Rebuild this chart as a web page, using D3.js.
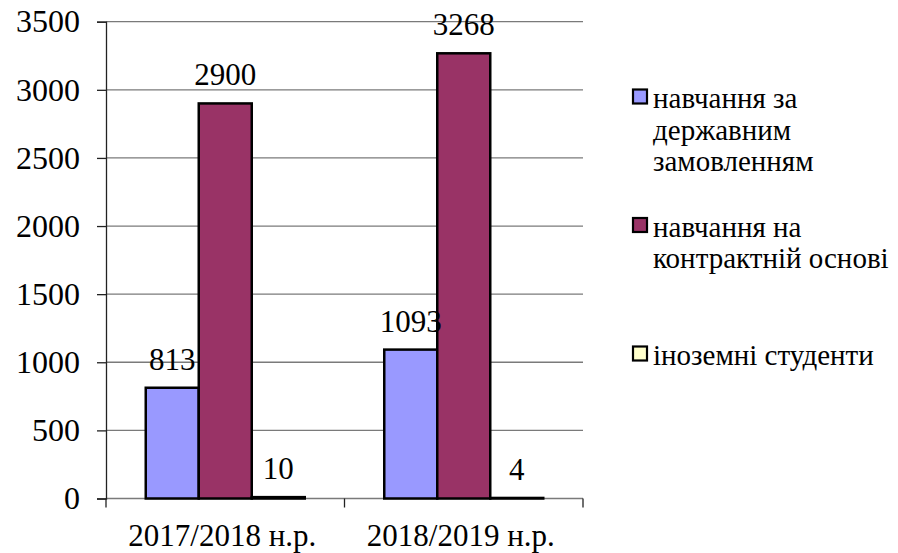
<!DOCTYPE html>
<html>
<head>
<meta charset="utf-8">
<script src="https://cdn.jsdelivr.net/npm/d3@7"></script>
<style>
  body { margin: 0; background: #fff; }
</style>
</head>
<body>
<div id="container"></div>
<script>
/* DATA */
const years = ["2017/2018 н.р.", "2018/2019 н.р."];
const seriesNames = [
  "навчання за державним замовленням",
  "навчання на контрактній основі",
  "іноземні студенти"
];
const stateFunded = [813, 1093];
const contract = [2900, 3268];
const foreign = [10, 4];
const yTicks = [0, 500, 1000, 1500, 2000, 2500, 3000, 3500];
const colors = ["#9999ff", "#993366", "#ffffcc"];

/* CONSTANTS */
const width = 898, height = 553;
const plot = {left: 106, right: 583, top: 21.7, bottom: 498.5};
const serif = "'Liberation Serif', 'Times New Roman', serif";

const svg = d3.select("#container").append("svg")
  .attr("width", width)
  .attr("height", height);

const seriesValues = [stateFunded, contract, foreign];
const data = [];
years.forEach((y, i) => {
  seriesNames.forEach((s, j) => data.push({year: y, series: s, value: seriesValues[j][i], idx: j}));
});

/* SCALES */
const xScale = d3.scaleBand().domain(years).range([plot.left, plot.right]);
const xInner = d3.scaleBand().domain(seriesNames)
  .range([0, xScale.bandwidth()])
  .paddingInner(0).paddingOuter(0.75);
const yScale = d3.scaleLinear().domain([0, 3500]).range([plot.bottom, plot.top]);

// gridlines
svg.append("g").selectAll("line")
  .data(yTicks)
  .join("line")
  .attr("x1", plot.left).attr("x2", plot.right)
  .attr("y1", d => yScale(d)).attr("y2", d => yScale(d))
  .attr("stroke", "#7a7a7a").attr("stroke-width", 1.3);

// y axis
const yAxis = d3.axisLeft(yScale).tickValues(yTicks).tickFormat(d3.format("d"))
  .tickSize(9).tickPadding(17);
const gy = svg.append("g")
  .attr("transform", `translate(${plot.left},0)`)
  .call(yAxis);
gy.select(".domain").attr("stroke", "#222").attr("stroke-width", 1.3);
gy.selectAll(".tick line").attr("stroke", "#222").attr("stroke-width", 1.3);
gy.selectAll("text")
  .style("font-family", serif)
  .style("font-size", "32px")
  .attr("fill", "#000");

// x axis ticks at category boundaries
const bounds = [plot.left, ...years.map(y => xScale(y) + xScale.bandwidth())];
svg.append("g").selectAll("line")
  .data(bounds)
  .join("line")
  .attr("x1", d => d).attr("x2", d => d)
  .attr("y1", plot.bottom).attr("y2", plot.bottom + 9)
  .attr("stroke", "#222").attr("stroke-width", 1.3);

svg.append("g").selectAll("text")
  .data(years)
  .join("text")
  .attr("x", d => xScale(d) + xScale.bandwidth() / 2 - 3)
  .attr("y", 546)
  .attr("text-anchor", "middle")
  .style("font-family", serif)
  .style("font-size", "31px")
  .text(d => d);

// bars
svg.append("g").selectAll("rect")
  .data(data)
  .join("rect")
  .attr("x", d => xScale(d.year) + xInner(d.series))
  .attr("y", d => yScale(d.value))
  .attr("width", xInner.bandwidth())
  .attr("height", d => yScale(0) - yScale(d.value))
  .attr("fill", d => colors[d.idx])
  .attr("stroke", "#000")
  .attr("stroke-width", 2.5);

// value labels
svg.append("g").selectAll("text")
  .data(data)
  .join("text")
  .attr("x", d => xScale(d.year) + xInner(d.series) + xInner.bandwidth() / 2)
  .attr("y", d => yScale(d.value) - 18)
  .attr("text-anchor", "middle")
  .style("font-family", serif)
  .style("font-size", "31px")
  .text(d => d.value);

/* LEGEND */
const legendY = d3.scalePoint().domain(seriesNames).range([129.5, 355]);
const lineH = 31.5;
const legend = svg.append("g");

seriesNames.forEach((name, j) => {
  const g = legend.append("g");
  const t = g.append("text").attr("x", 653)
    .style("font-family", serif)
    .style("font-size", "29px");
  // wrap words
  const words = name.split(" ");
  let lines = [], cur = [];
  words.forEach(w => {
    const test = cur.concat(w).join(" ");
    t.text(test);
    if (t.node().getComputedTextLength() > 242 && cur.length) {
      lines.push(cur.join(" "));
      cur = [w];
    } else cur.push(w);
  });
  lines.push(cur.join(" "));
  t.text(null);
  const first = legendY(name) - (lines.length - 1) * lineH / 2 + 10;
  lines.forEach((l, k) => {
    t.append("tspan").attr("x", 653).attr("y", first + k * lineH).text(l);
  });
  g.append("rect")
    .attr("x", 633).attr("y", first - 18.5)
    .attr("width", 14).attr("height", 14)
    .attr("fill", colors[j])
    .attr("stroke", "#000").attr("stroke-width", 2.2);
});
</script>
</body>
</html>
